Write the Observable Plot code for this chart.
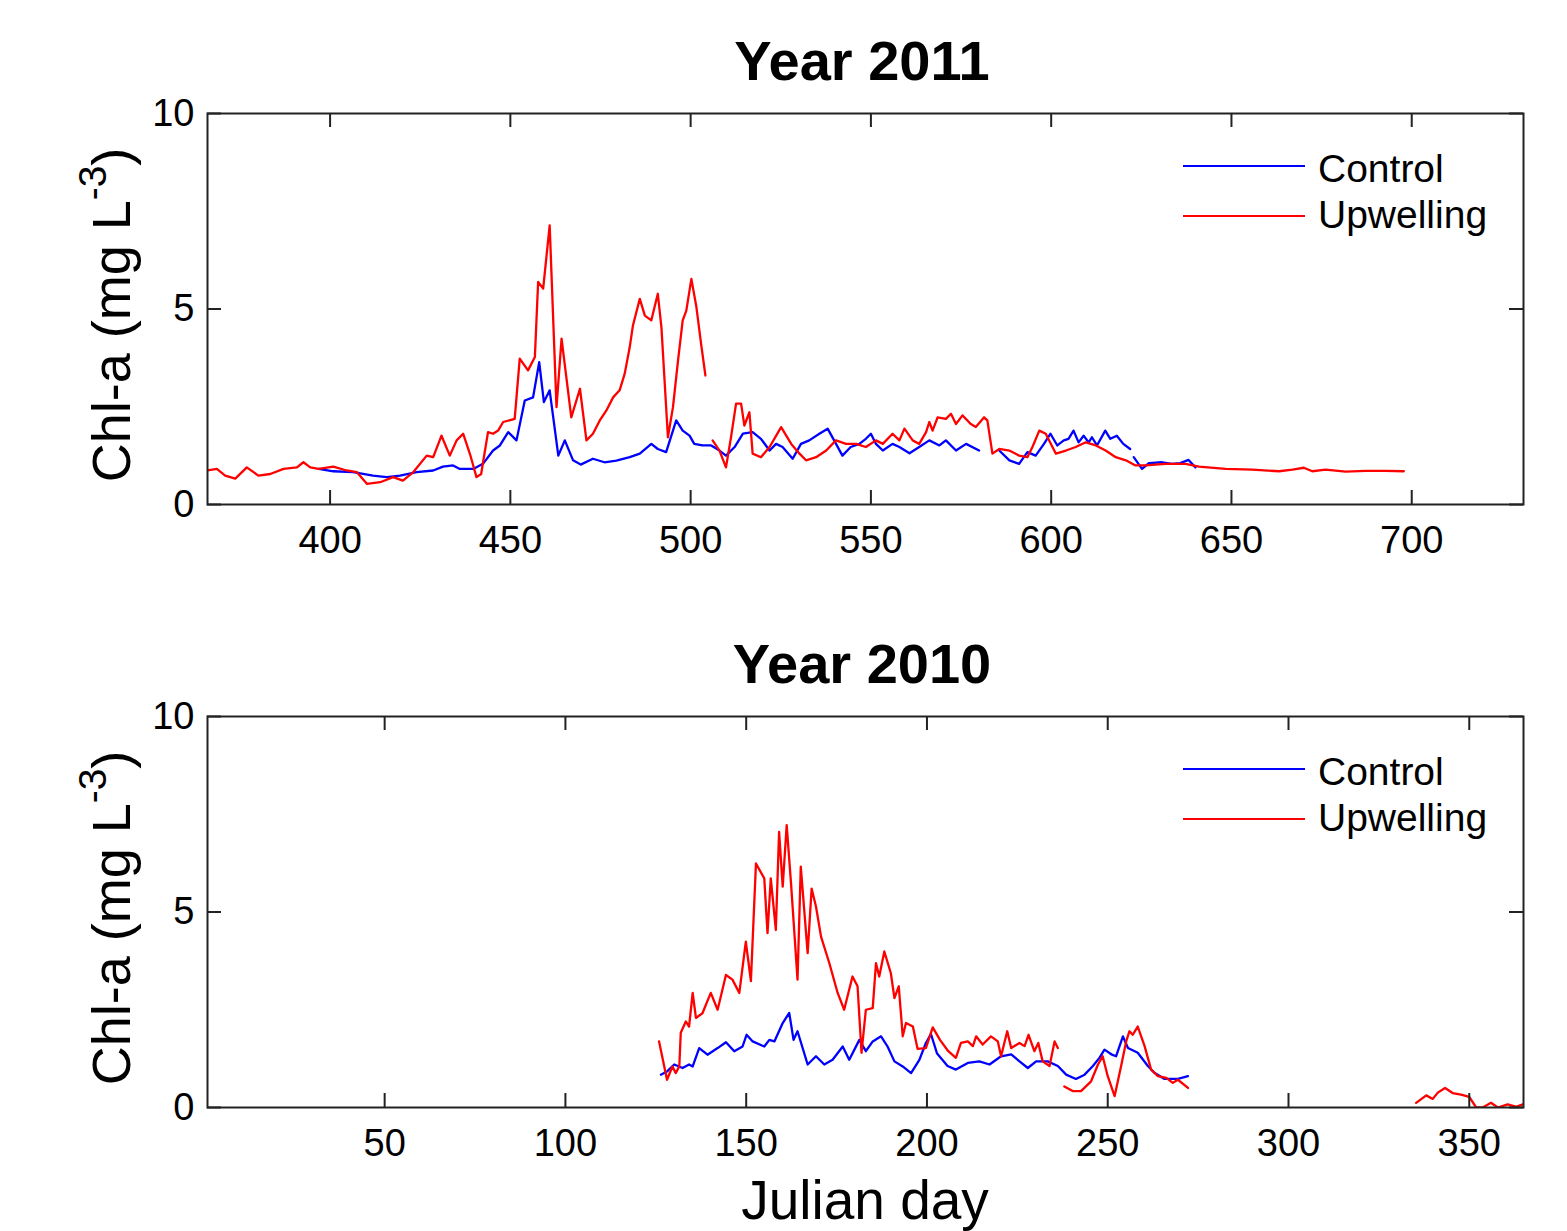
<!DOCTYPE html>
<html>
<head>
<meta charset="utf-8">
<script src="https://cdn.jsdelivr.net/npm/d3@7"></script>
<script src="https://cdn.jsdelivr.net/npm/@observablehq/plot@0.6"></script>
<style>
  body { margin: 0; background: #fff; }
  #fig { position: relative; width: 1567px; height: 1231px; overflow: hidden; background: #fff;
         font-family: "Liberation Sans", Arial, Helvetica, sans-serif; color: #000; }
  .panel { position: absolute; left: 0; }
  .title { position: absolute; left: 207px; width: 1310px; text-align: center; font-weight: bold;
           font-size: 56px; line-height: 1; white-space: nowrap; }
  .ylab { position: absolute; width: 500px; height: 54px; line-height: 54px; font-size: 54px;
          text-align: center; transform: rotate(-90deg); transform-origin: 50% 50%; white-space: nowrap; }
  .ylab sup { font-size: 0.72em; vertical-align: 0; position: relative; top: -0.62em; }
  .xlab { position: absolute; left: 207px; width: 1316px; text-align: center; font-size: 55px; line-height: 1; }
  .leg-line { position: absolute; left: 1183px; width: 122px; height: 2px; }
  .leg-text { position: absolute; left: 1318px; font-size: 39px; line-height: 1; white-space: nowrap; }
</style>
</head>
<body>
<div id="fig"></div>
<script>
// ---------------- Data (Julian day, Chl-a mg L-3); null = gap ----------------
const xTicks2011 = [400, 450, 500, 550, 600, 650, 700];
const xTicks2010 = [50, 100, 150, 200, 250, 300, 350];
const yTicks = [0, 5, 10];
const seriesNames = ["Control", "Upwelling"];
const seriesColors = ["#0000ff", "#ff0000"];

const control2011 = [
  [396.8,0.91],[400.9,0.85],[406.4,0.83],[411.9,0.74],[415.7,0.70],[419.4,0.74],[424,0.83],[428.6,0.87],
  [431.3,0.97],[434.1,1.00],[436,0.91],[439.7,0.91],[442.4,1.04],[445.2,1.38],[447.1,1.51],[449.4,1.85],
  [451.7,1.64],[454,2.66],[456.3,2.74],[458,3.64],[459.3,2.62],[460.9,2.92],[463.3,1.25],[465.1,1.64],
  [467.4,1.13],[469.5,1.02],[472.9,1.17],[476.1,1.08],[479.4,1.12],[483.1,1.21],[485.9,1.30],[489.1,1.55],
  [490.9,1.42],[493.2,1.34],[496,2.15],[497.8,1.89],[499.7,1.76],[501,1.55],[503.3,1.51],[505.7,1.51],
  [508,1.38],[509.8,1.25],[512.2,1.47],[514.5,1.81],[517.2,1.85],[519.5,1.68],[521.9,1.38],[523.7,1.55],
  [525.5,1.47],[528.3,1.17],[530.6,1.55],[532.9,1.64],[535.7,1.81],[538,1.94],[539.8,1.64],[542.1,1.25],
  [544.4,1.47],[546.8,1.55],[548.6,1.68],[550,1.81],[551.4,1.55],[553.3,1.38],[556,1.55],[557.9,1.47],
  [560.7,1.31],[563.4,1.47],[566.2,1.64],[569,1.51],[570.8,1.64],[573.6,1.38],[576.4,1.55],[580,1.38],
  [583,null],
  [585.6,1.38],[588.4,1.13],[591.1,1.04],[593.4,1.34],[595.7,1.25],[598,1.55],[599.8,1.81],[601.7,1.51],
  [603.5,1.64],[604.8,1.68],[606.2,1.89],[607.6,1.59],[609,1.76],[610.4,1.59],[611.3,1.72],[612.7,1.51],
  [615,1.89],[616.4,1.68],[618.2,1.76],[620,1.55],[621.9,1.42],
  [622.4,null],
  [622.9,1.21],[625.2,0.91],[627.1,1.06],[630.8,1.08],[633.5,1.04],[635.8,1.06],[638.1,1.14],[640,0.95]
];

const upwelling2011 = [
  [366,0.87],[368.6,0.91],[370.9,0.74],[373.7,0.66],[376.9,0.95],[380.1,0.74],[383.4,0.78],[387.1,0.91],
  [390.8,0.95],[392.6,1.08],[394.5,0.95],[396.8,0.91],[400.9,0.97],[404.6,0.87],[407.4,0.83],[410.2,0.53],
  [413.9,0.57],[417.5,0.70],[420.2,0.61],[423.1,0.83],[426.8,1.25],[428.6,1.21],[430.9,1.76],[433.2,1.25],
  [435.1,1.64],[436.9,1.81],[438.8,1.29],[440.6,0.70],[441.9,0.78],[443.8,1.85],[445.2,1.81],[446.6,1.89],
  [448,2.11],[451.2,2.19],[452.6,3.73],[454.9,3.43],[456.8,3.77],[457.7,5.69],[459.1,5.52],[460.9,7.14],
  [462.8,2.49],[464.2,4.24],[466.9,2.23],[469.3,2.96],[471.1,1.64],[472.9,1.81],[474.8,2.15],[476.6,2.40],
  [478.5,2.74],[480.3,2.92],[481.7,3.34],[483.1,4.02],[484,4.58],[485.9,5.26],[487.3,4.83],[489.1,4.71],
  [490.9,5.39],[491.9,4.53],[493.7,1.72],[495.1,2.49],[496.5,3.68],[497.8,4.71],[498.8,4.96],[500.2,5.77],
  [501.6,5.05],[502.9,4.11],[504.1,3.30],
  [505,null],
  [506.1,1.64],[508,1.38],[509.8,0.95],[511.2,1.72],[512.6,2.58],[514,2.58],[514.9,2.02],[516.3,2.36],
  [517.2,1.30],[519.5,1.21],[521.9,1.47],[525.1,1.98],[527.9,1.55],[530.2,1.30],[532,1.13],[534.8,1.21],
  [537.6,1.38],[540.3,1.64],[543.1,1.55],[545.9,1.55],[548.6,1.47],[551.4,1.64],[553.3,1.55],[556,1.81],
  [557.9,1.64],[559.3,1.94],[561.6,1.64],[563.4,1.55],[565.3,1.85],[566.2,2.11],[567.1,1.89],[568.5,2.23],
  [570.8,2.19],[572.2,2.32],[573.6,2.06],[575.4,2.28],[577.7,2.06],[579.1,1.98],[581.4,2.23],[582.3,2.15],
  [583.7,1.30],[585.6,1.42],[588.4,1.38],[591.1,1.25],[593.4,1.21],[594.8,1.47],[596.7,1.89],[598.5,1.81],
  [601.3,1.30],[604.1,1.38],[606.8,1.47],[609.6,1.59],[612.4,1.51],[615.1,1.38],[617.9,1.21],[620.7,1.13],
  [623.4,1.00],[626.2,1.00],[631.7,1.04],[637.3,1.04],[641,0.97],[648.4,0.91],[655.8,0.89],[663.2,0.85],
  [666.9,0.89],[670.1,0.94],[672.4,0.85],[676.1,0.89],[681.7,0.84],[687.2,0.86],[692.7,0.86],[697.8,0.85]
];

const control2010 = [
  [126.4,0.84],[128.2,0.93],[130.1,1.10],[132.4,1.01],[134.2,1.10],[135.2,1.05],[137,1.52],[139.3,1.35],
  [142.1,1.52],[144.4,1.67],[146.7,1.44],[149,1.56],[150.1,1.86],[151.8,1.69],[155,1.56],[156.4,1.73],
  [157.8,1.69],[160.1,2.16],[161.9,2.42],[163.1,1.73],[164.2,1.95],[167,1.10],[169.3,1.31],[171.6,1.10],
  [173.9,1.22],[176.7,1.56],[178.5,1.22],[181.3,1.73],[183.1,1.44],[185,1.69],[187.3,1.82],[189.1,1.56],
  [191,1.18],[193.3,1.05],[195.6,0.88],[197.9,1.22],[199.7,1.65],[201.1,1.88],[202.8,1.38],[205.7,1.06],
  [208,0.97],[211.3,1.14],[214.5,1.18],[217.3,1.10],[220.5,1.31],[223.3,1.36],[225.6,1.18],[227.9,1.01],
  [230.2,1.18],[233.4,1.18],[236.2,1.06],[238.5,0.84],[241.2,0.73],[243.6,0.84],[245.9,1.06],[247.7,1.27],
  [249.1,1.48],[251,1.36],[252.3,1.31],[254.2,1.82],[255.6,1.52],[258.3,1.40],[261.1,1.06],[262.9,0.89],
  [265.7,0.73],[269.4,0.73],[272.2,0.80]
];

const upwelling2010 = [
  [125.9,1.69],[128.1,0.71],[129.6,1.05],[130.5,0.88],[131.5,1.05],[131.9,1.91],[133.3,2.20],[134.2,2.07],
  [135.2,2.93],[136.1,2.29],[137.9,2.41],[140.2,2.93],[142.1,2.50],[144.4,3.39],[146.2,3.27],[148.1,2.93],
  [149.9,4.24],[151.3,3.23],[152.7,6.24],[155,5.86],[155.9,4.46],[156.8,5.86],[158.2,4.54],[159.1,7.05],
  [160.1,5.65],[161.2,7.22],[162.4,5.73],[164.2,3.27],[165.1,6.16],[167,3.95],[168.1,5.60],[169.3,5.14],
  [170.7,4.37],[173,3.69],[175.3,2.93],[177.1,2.50],[179.4,3.35],[180.8,3.10],[181.9,1.40],[183.1,2.50],
  [185,2.54],[185.9,3.69],[186.8,3.35],[188.2,3.99],[190,3.44],[191,2.80],[192.2,3.10],[193.3,1.82],
  [194.2,2.16],[196.1,2.07],[197.4,1.50],[199.7,1.52],[201.6,2.05],[203.6,1.73],[205.9,1.44],[208,1.27],
  [209.4,1.65],[211.3,1.69],[212.7,1.57],[213.6,1.82],[215.4,1.61],[217.7,1.82],[219.6,1.69],[220.5,1.31],
  [222.2,1.95],[223.3,1.52],[225.6,1.65],[227,1.57],[228.1,1.86],[229.7,1.44],[230.8,1.65],[232,1.18],
  [233.9,1.06],[235.3,1.69],[236.2,1.52],
  [237,null],
  [238,0.54],[240.3,0.42],[242.6,0.42],[245.4,0.67],[247.3,1.10],[248.6,1.31],[250,0.80],[251.9,0.29],
  [253.7,1.06],[255.1,1.69],[256,1.95],[256.9,1.86],[258.3,2.07],[260.2,1.57],[262,0.97],[263.9,0.80],
  [266.2,0.76],[268,0.63],[269.4,0.71],[272.2,0.50],
  [300,null],
  [335.3,0.12],[338.1,0.31],[339.9,0.22],[341.3,0.38],[343.3,0.50],[345.4,0.37],[347.7,0.33],[350,0.27],
  [351.9,0.0],[353.7,0.0],[356,0.12],[357.9,0.0],[360.6,0.08],[362.9,0.02],[364.8,0.08]
];

// ---------------- Layout ----------------
const W = 1567, H = 600, MT = 113, MB = 96, ML = 207, MR = 44;
const IH = H - MT - MB, IW = W - ML - MR, TICK = 14;
const FONT = '"Liberation Sans", Arial, Helvetica, sans-serif';

function rows(arr, name) { return arr.map(([day, chl]) => ({day, chl, series: name})); }

function panel(xDomain, xTicks, ctrl, upw) {
  return Plot.plot({
    width: W, height: H, marginTop: MT, marginBottom: MB, marginLeft: ML, marginRight: MR,
    style: {fontFamily: FONT, background: "white", color: "black", overflow: "visible"},
    x: {domain: xDomain},
    y: {domain: [0, 10]},
    marks: [
      Plot.line(rows(ctrl, seriesNames[0]), {x: "day", y: "chl", stroke: seriesColors[0], strokeWidth: 2.3, clip: true}),
      Plot.line(rows(upw, seriesNames[1]), {x: "day", y: "chl", stroke: seriesColors[1], strokeWidth: 2.3, clip: true}),
      Plot.frame({stroke: "#222", strokeWidth: 2}),
      Plot.tickX(xTicks, {x: d => d, stroke: "#222", strokeWidth: 2, insetTop: IH - TICK}),
      Plot.tickX(xTicks, {x: d => d, stroke: "#222", strokeWidth: 2, insetBottom: IH - TICK}),
      Plot.tickY(yTicks, {y: d => d, stroke: "#222", strokeWidth: 2, insetRight: IW - TICK}),
      Plot.tickY(yTicks, {y: d => d, stroke: "#222", strokeWidth: 2, insetLeft: IW - TICK}),
      Plot.axisX(xTicks, {tickSize: 0, tickPadding: 22, fontSize: 38, label: null}),
      Plot.axisY(yTicks, {tickSize: 0, tickPadding: 13, fontSize: 38, label: null})
    ]
  });
}

const fig = document.getElementById("fig");
const panels = [
  {title: "Year 2011", top: 0, dom: [366, 731], ticks: xTicks2011, c: control2011, u: upwelling2011},
  {title: "Year 2010", top: 603, dom: [1, 365], ticks: xTicks2010, c: control2010, u: upwelling2010}
];

panels.forEach(p => {
  const svg = panel(p.dom, p.ticks, p.c, p.u);
  svg.classList.add("panel");
  svg.style.top = p.top + "px";
  fig.appendChild(svg);

  const t = document.createElement("div");
  t.className = "title";
  t.style.top = (p.top + 33) + "px";
  t.textContent = p.title;
  fig.appendChild(t);

  const yl = document.createElement("div");
  yl.className = "ylab";
  yl.style.left = (111 - 250) + "px";
  yl.style.top = (p.top + 315 - 27) + "px";
  yl.innerHTML = "Chl-a (mg L<sup>-3</sup>)";
  fig.appendChild(yl);

  const legY = [166, 216], legBase = [182, 228];
  seriesNames.forEach((name, i) => {
    const ln = document.createElement("div");
    ln.className = "leg-line";
    ln.style.top = (p.top + legY[i] - 1) + "px";
    ln.style.background = seriesColors[i];
    fig.appendChild(ln);
    const tx = document.createElement("div");
    tx.className = "leg-text";
    tx.style.top = (p.top + legBase[i] - 33) + "px";
    tx.textContent = name;
    fig.appendChild(tx);
  });
});

const xl = document.createElement("div");
xl.className = "xlab";
xl.style.top = "1173px";
xl.textContent = "Julian day";
fig.appendChild(xl);
</script>
</body>
</html>
